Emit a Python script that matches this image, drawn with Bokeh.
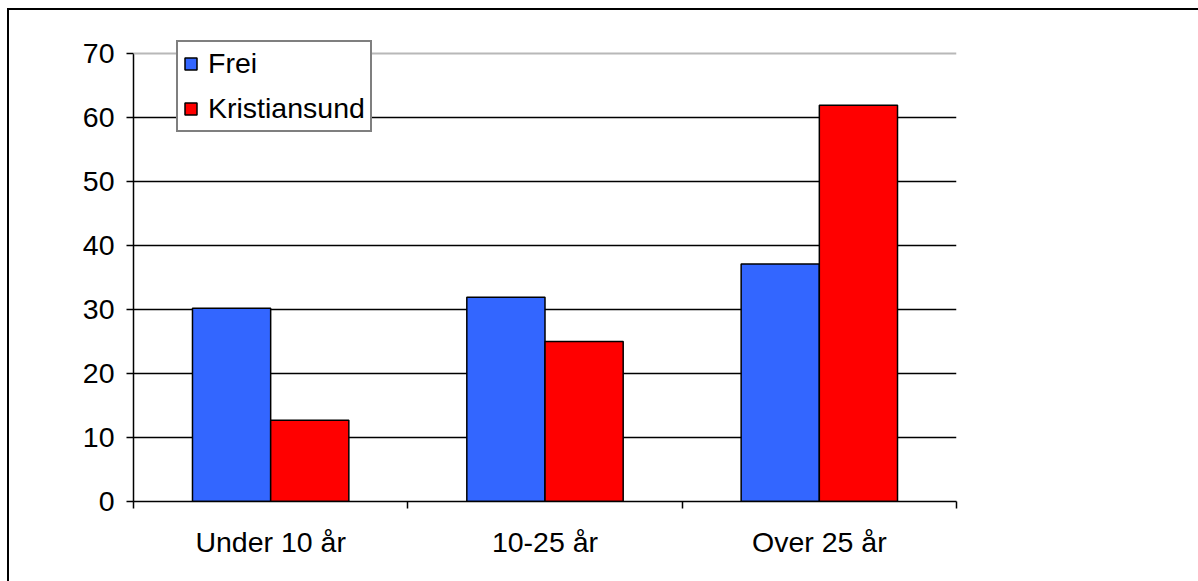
from bokeh.plotting import figure
from bokeh.models import Range1d, FixedTicker, Span, ColumnDataSource
from bokeh.embed import file_html
from bokeh.resources import INLINE

categories = ["Under 10 år", "10-25 år", "Over 25 år"]
frei = [30.2, 31.9, 37.1]
kristiansund = [12.7, 25.0, 61.9]
y_ticks = [0, 10, 20, 30, 40, 50, 60, 70]

FONT = "Liberation Sans"
FS = "28.5px"
BAR_W = 0.285
Y_TOP = 72.03  # headroom above 70 so the legend fits inside the frame

centers = [i + 0.5 for i in range(len(categories))]
src_f = ColumnDataSource(dict(x=[c - BAR_W / 2 for c in centers], top=frei))
src_k = ColumnDataSource(dict(x=[c + BAR_W / 2 for c in centers], top=kristiansund))

p = figure(width=1198, height=581, output_backend="svg", toolbar_location=None,
           x_range=Range1d(0, len(categories)), y_range=Range1d(0, Y_TOP),
           min_border_left=133, min_border_right=242, min_border_top=40, min_border_bottom=80)
p.background_fill_color = "white"
p.border_fill_alpha = 0
p.outline_line_color = None
# outer chart frame (left and top sides only), drawn as a host background
p.styles = {"background": "linear-gradient(#000,#000) 7px 8px / 2px 100% no-repeat, "
                          "linear-gradient(#000,#000) 7px 8px / 100% 2px no-repeat, #fff"}

# grid
p.xgrid.visible = False
p.ygrid.ticker = FixedTicker(ticks=y_ticks[1:-1])
p.ygrid.grid_line_color = "black"
p.ygrid.grid_line_width = 1.5
p.add_layout(Span(location=y_ticks[-1], dimension="width", line_color="#b8b8b8", line_width=2))

p.vbar(x="x", top="top", width=BAR_W, source=src_f, fill_color="#3366FF",
       line_color="black", line_width=1.5, legend_label="Frei")
p.vbar(x="x", top="top", width=BAR_W, source=src_k, fill_color="#FF0000",
       line_color="black", line_width=1.5, legend_label="Kristiansund")

# y axis
ya = p.yaxis[0]
ya.ticker = FixedTicker(ticks=y_ticks)
ya.bounds = (y_ticks[0], y_ticks[-1])
ya.axis_line_width = 1.5
ya.major_tick_line_width = 1.5
ya.major_tick_out = 7
ya.major_tick_in = 0
ya.minor_tick_line_color = None
ya.major_label_text_font = FONT
ya.major_label_text_font_size = FS
ya.major_label_text_color = "black"
ya.major_label_standoff = 12

# x axis
xa = p.xaxis[0]
xa.ticker = FixedTicker(ticks=centers, minor_ticks=list(range(len(categories) + 1)))
xa.major_label_overrides = {c: lab for c, lab in zip(centers, categories)}
xa.axis_line_width = 1.5
xa.major_tick_line_color = None
xa.minor_tick_line_color = "black"
xa.minor_tick_line_width = 1.5
xa.minor_tick_out = 7
xa.minor_tick_in = 0
xa.major_label_text_font = FONT
xa.major_label_text_font_size = FS
xa.major_label_text_color = "black"
xa.major_label_standoff = 17

# legend
lg = p.legend[0]
lg.location = (43, 369)
lg.border_line_color = "black"
lg.border_line_width = 2
lg.background_fill_alpha = 1
lg.label_text_font = FONT
lg.label_text_font_size = FS
lg.label_text_color = "black"
lg.glyph_width = 15
lg.glyph_height = 15
lg.label_standoff = 10
lg.padding = 5
lg.spacing = 12
lg.label_height = 24
lg.margin = 0

open("out.html", "w").write(file_html(p, INLINE))
